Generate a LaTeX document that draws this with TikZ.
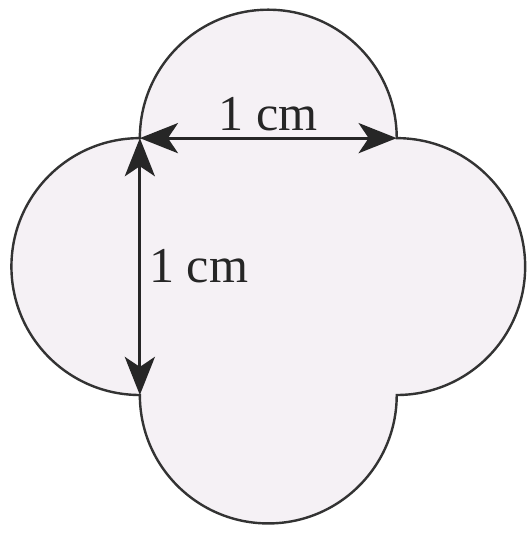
\documentclass[tikz,border=0pt]{standalone}
\usepackage{fontspec}
\setmainfont{Liberation Serif}
\usepackage{tikz}
\usetikzlibrary{arrows.meta,positioning,calc}

\begin{document}
\begin{tikzpicture}[
    petal/.style={draw=black!80, line width=1.2pt, fill={rgb,255:red,245;green,241;blue,245}},
    arr/.style={{Stealth[length=19pt,width=15pt,inset=5pt]}-{Stealth[length=19pt,width=15pt,inset=5pt]}, line width=1.5pt, black!85},
    lbl/.style={font=\fontsize{25}{28}\selectfont, inner sep=2pt}
]
\useasboundingbox (-2.45,-2.47) rectangle (6.81,6.92);
\coordinate (bl) at (0,0);
\coordinate (br) at (4.5,0);
\coordinate (tr) at (4.5,4.5);
\coordinate (tl) at (0,4.5);

\draw[petal] (tl) arc[start angle=180, end angle=0, radius=2.25]
    arc[start angle=90, end angle=-90, radius=2.25]
    arc[start angle=0, end angle=-180, radius=2.25]
    arc[start angle=-90, end angle=-270, radius=2.25] -- cycle;

\draw[arr] (tl) -- (tr) node[lbl, midway, above=1pt] (top) {1 cm};
\draw[arr] (tl) -- (bl) node[lbl, midway, right=2pt] (side) {1 cm};
\end{tikzpicture}
\end{document}
